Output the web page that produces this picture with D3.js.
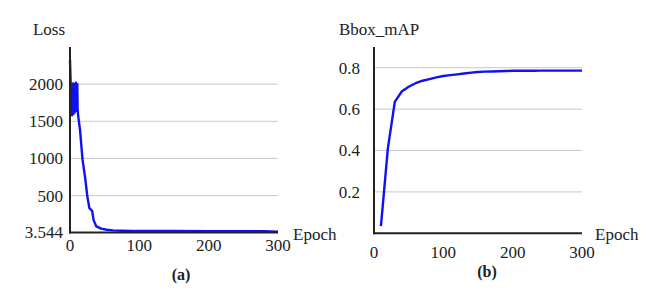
<!DOCTYPE html>
<html>
<head>
<meta charset="utf-8">
<script src="https://cdnjs.cloudflare.com/ajax/libs/d3/7.8.5/d3.min.js"></script>
<style>
    body { margin: 0; background: #fff; }
    .grid line { stroke: #c8c8c8; stroke-width: 1; }
    .axisline { stroke: #222; stroke-width: 2; }
</style>
</head>
<body>
<script>
//loss curve (panel a)
var lossEpochs = [0, 1, 1.5, 2, 2.5, 3, 3.5, 4, 4.5, 5, 5.5, 6, 6.5, 7, 7.5, 8, 8.5, 9, 9.5, 10, 10.5, 11, 12, 14.5, 18, 22, 25, 28, 32, 34, 38, 45, 53, 62, 75, 90, 150, 200, 250, 280, 300];
var lossValues = [2330, 1990, 1620, 2000, 1700, 1580, 1960, 1640, 2010, 1600, 1950, 1680, 2000, 1620, 1980, 1700, 2020, 1640, 1960, 1700, 2000, 1650, 1560, 1380, 990, 730, 490, 330, 295, 170, 85, 55, 40, 32, 27, 24, 23, 22, 22, 20, 14];
var lossTicks = [3.544, 500, 1000, 1500, 2000];

//bbox mAP curve (panel b)
var mapEpochs = [10, 20, 30, 40, 50, 60, 70, 80, 90, 100, 110, 120, 130, 140, 150, 160, 170, 180, 190, 200, 210, 220, 230, 240, 250, 260, 270, 280, 290, 300];
var mapValues = [0.035, 0.41, 0.635, 0.685, 0.708, 0.725, 0.737, 0.745, 0.753, 0.760, 0.764, 0.768, 0.772, 0.776, 0.779, 0.781, 0.782, 0.783, 0.784, 0.785, 0.785, 0.785, 0.785, 0.786, 0.786, 0.786, 0.786, 0.786, 0.786, 0.786];
var mapTicks = [0.2, 0.4, 0.6, 0.8];

var xTicks = [0, 100, 200, 300];

var serif = "'Liberation Serif'";

var svg = d3.select("body").append("svg")
    .attr("width", 657)
    .attr("height", 303);

//panel a
drawPanel({
    x0: 70, x1: 278, yTop: 47, yBottom: 232.5,
    yDomain: [3.544, 2500],
    yTicks: lossTicks, yFormat: function(d){ return d === 3.544 ? "3.544" : d; },
    yLabelX: 63, xLabelY: 251,
    epochs: lossEpochs, values: lossValues,
    title: "Loss", titleX: 65, titleAnchor: "end",
    epochX: 293, caption: "(a)", captionX: 181, captionY: 280
});

//panel b
drawPanel({
    x0: 374, x1: 582, yTop: 47, yBottom: 233.3,
    yDomain: [0, 0.9],
    yTicks: mapTicks, yFormat: d3.format(".1f"),
    yLabelX: 360, xLabelY: 258,
    epochs: mapEpochs, values: mapValues,
    title: "Bbox_mAP", titleX: 339, titleAnchor: "start",
    epochX: 595, caption: "(b)", captionX: 487, captionY: 277
});

//add a serif text element
function addText(sel, size){
    return sel.append("text")
        .style("font-family", serif)
        .style("font-size", size + "px")
        .style("fill", "#222");
}

function drawPanel(p){
    var x = d3.scaleLinear().domain([0, 300]).range([p.x0, p.x1]);
    var y = d3.scaleLinear().domain(p.yDomain).range([p.yBottom, p.yTop]);
    var g = svg.append("g");

    //horizontal grid lines (skip the bottom tick, that's the axis)
    g.append("g").attr("class", "grid")
        .selectAll("line")
        .data(p.yTicks.filter(function(d){ return d > p.yDomain[0]; }))
        .enter().append("line")
        .attr("x1", p.x0).attr("x2", p.x1)
        .attr("y1", function(d){ return y(d); })
        .attr("y2", function(d){ return y(d); });

    //y tick labels
    p.yTicks.forEach(function(d){
        addText(g, 17)
            .attr("x", p.yLabelX)
            .attr("y", y(d))
            .attr("dy", "0.35em")
            .attr("text-anchor", "end")
            .text(p.yFormat(d));
    });

    //x tick labels
    xTicks.forEach(function(d){
        addText(g, 17)
            .attr("x", x(d))
            .attr("y", p.xLabelY)
            .attr("text-anchor", "middle")
            .text(d);
    });

    //data line
    var line = d3.line()
        .x(function(d, i){ return x(p.epochs[i]); })
        .y(function(d){ return y(d); });
    g.append("path")
        .datum(p.values)
        .attr("d", line)
        .attr("fill", "none")
        .attr("stroke", "#1010f5")
        .attr("stroke-width", 2.4)
        .attr("stroke-linejoin", "round");

    //axes lines
    g.append("line").attr("class", "axisline")
        .attr("x1", p.x0).attr("x2", p.x0)
        .attr("y1", p.yTop).attr("y2", p.yBottom + 1);
    g.append("line").attr("class", "axisline")
        .attr("x1", p.x0 - 1).attr("x2", p.x1)
        .attr("y1", p.yBottom).attr("y2", p.yBottom);

    //labels
    addText(g, 17)
        .attr("x", p.titleX).attr("y", 35)
        .attr("text-anchor", p.titleAnchor)
        .text(p.title);
    addText(g, 17)
        .attr("x", p.epochX).attr("y", 240)
        .text("Epoch");
    addText(g, 16)
        .attr("x", p.captionX).attr("y", p.captionY)
        .attr("text-anchor", "middle")
        .style("font-weight", "bold")
        .text(p.caption);
}
</script>
</body>
</html>
